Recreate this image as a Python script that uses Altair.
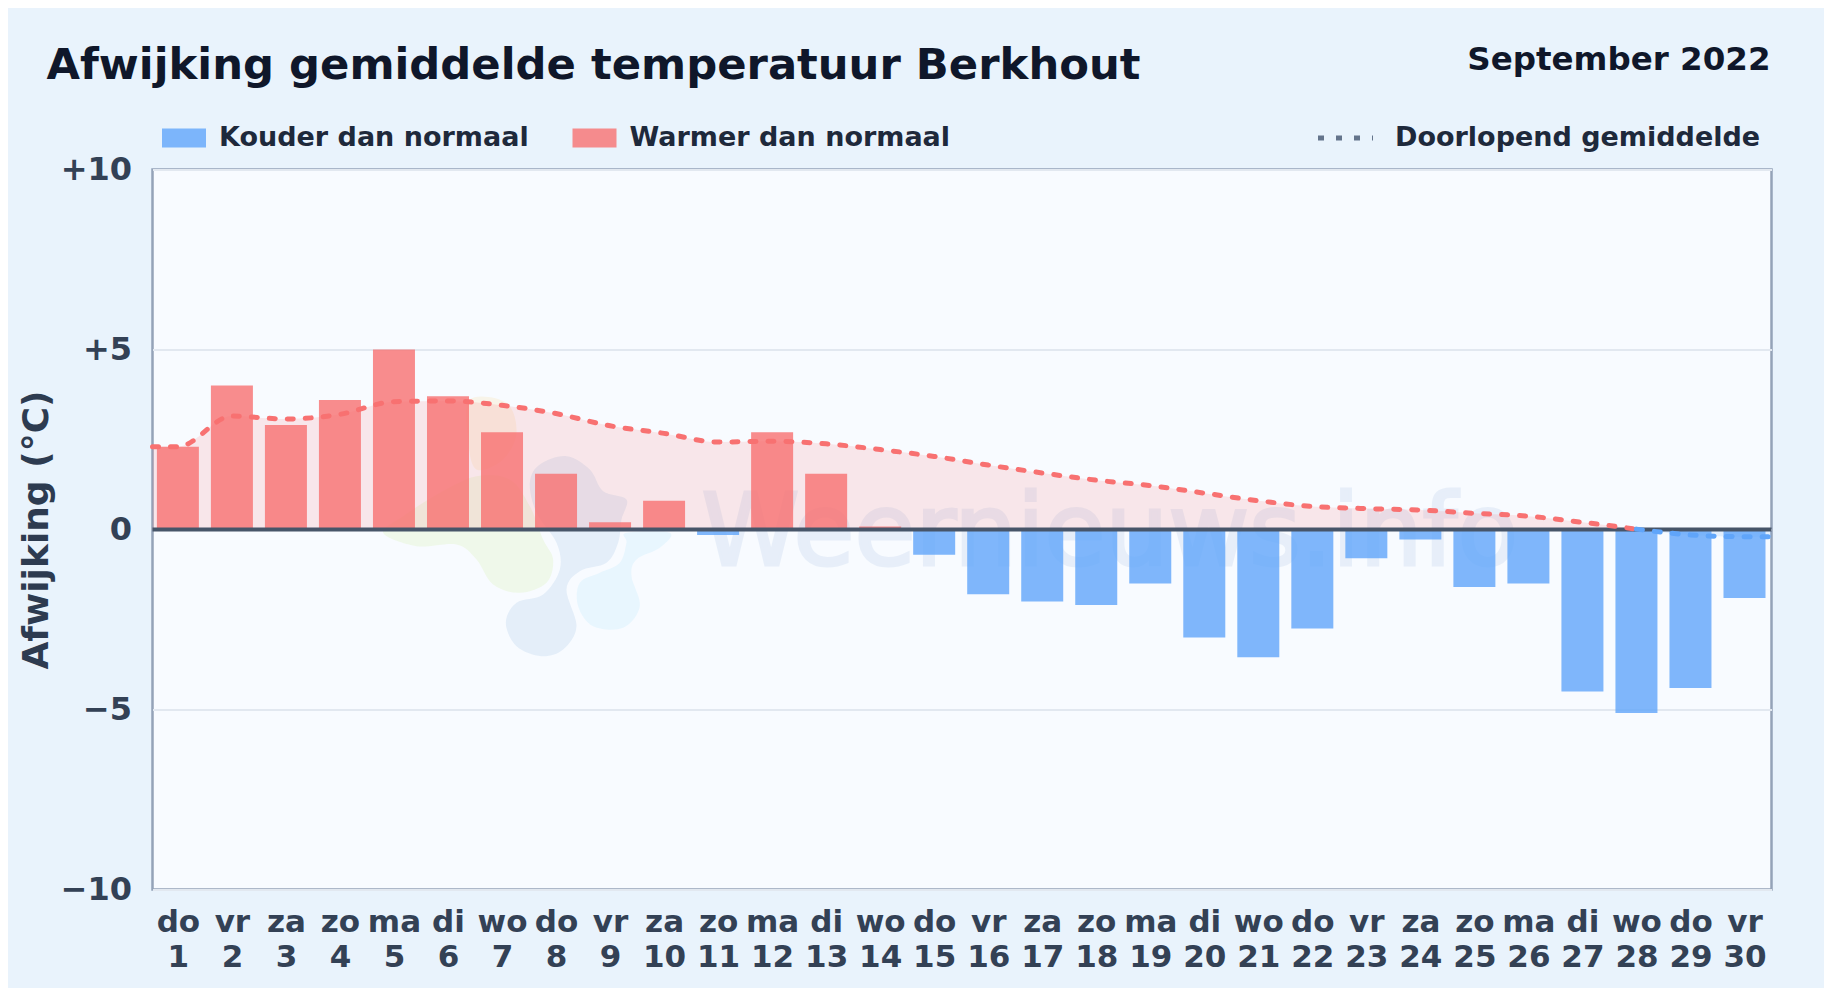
import json
import altair as alt
import pandas as pd

day_names = ["do","vr","za","zo","ma","di","wo","do","vr","za","zo","ma","di","wo","do","vr","za","zo","ma","di","wo","do","vr","za","zo","ma","di","wo","do","vr"]
days = list(range(1, 31))
deviation = [2.3,4.0,2.9,3.6,5.0,3.7,2.7,1.55,0.2,0.8,-0.15,2.7,1.55,0.08,-0.7,-1.8,-2.0,-2.1,-1.5,-3.0,-3.55,-2.75,-0.8,-0.28,-1.6,-1.5,-4.5,-5.1,-4.4,-1.9]
running_days = [0.53] + days + [30.5]
running_mean = [2.3,2.3,3.15,3.07,3.2,3.55,3.57,3.45,3.22,2.88,2.67,2.43,2.45,2.38,2.22,2.03,1.79,1.57,1.37,1.22,1.01,0.8,0.64,0.58,0.54,0.45,0.37,0.2,0.01,-0.15,-0.2,-0.2]
COLD, WARM, MEAN = "Kouder dan normaal", "Warmer dan normaal", "Doorlopend gemiddelde"

FONT = "DejaVu Sans"
bars_df = pd.DataFrame({"dag": days, "afw": deviation, "soort": [COLD if v < 0 else WARM for v in deviation]})
line_df = pd.DataFrame({"dag": running_days, "gem": running_mean, "naam": MEAN})
warm_df = line_df[line_df.dag <= 28]
cold_df = line_df[line_df.dag >= 28]

x_scale = alt.Scale(domain=[0.53, 30.5], nice=False, zero=False, padding=0)
y_scale = alt.Scale(domain=[-10, 10], nice=False)
x_expr = "[" + json.dumps(day_names) + "[datum.value-1], ''+datum.value]"
x_axis = alt.Axis(values=days, labelExpr=x_expr, title=None, grid=False, domain=False, ticks=False,
                  labelFont=FONT, labelFontSize=31, labelFontWeight="bold", labelColor="#334155",
                  labelOverlap=False, labelFlush=False, labelLineHeight=34.5, labelPadding=18, labelBaseline="top")
y_axis = alt.Axis(values=[-10, -5, 0, 5, 10], title="Afwijking (°C)",
                  labelExpr="datum.value>0 ? '+'+datum.value : (datum.value<0 ? '\u2212'+abs(datum.value) : '0')",
                  grid=True, gridColor="#e2e8f0", gridWidth=2, domain=False, ticks=False,
                  labelFont=FONT, labelFontSize=32, labelFontWeight="bold", labelColor="#334155", labelPadding=21,
                  titleFont=FONT, titleFontSize=36, titleFontWeight="bold", titleColor="#2d3b50", titlePadding=5)
X = alt.X("dag:Q", scale=x_scale, axis=x_axis)
Y = alt.Y("gem:Q", scale=y_scale, axis=y_axis)


def smooth(points):
    cx, cy = 600, 330
    p = [((a - cx) / 3, (b - cy) / 3) for a, b in points]
    n = len(p)
    out = f"M{p[0][0]:.1f},{p[0][1]:.1f}"
    for i in range(n):
        p0, p1, p2, p3 = p[i - 1], p[i], p[(i + 1) % n], p[(i + 2) % n]
        c1 = (p1[0] + (p2[0] - p0[0]) / 6, p1[1] + (p2[1] - p0[1]) / 6)
        c2 = (p2[0] - (p3[0] - p1[0]) / 6, p2[1] - (p3[1] - p1[1]) / 6)
        out += f"C{c1[0]:.1f},{c1[1]:.1f},{c2[0]:.1f},{c2[1]:.1f},{p2[0]:.1f},{p2[1]:.1f}"
    return out + "Z"


logo_dark = [(540,135),(620,110),(690,150),(730,215),(800,240),(785,300),(775,370),(740,430),(660,455),(620,510),(650,620),(610,690),(545,710),(470,680),(438,610),(470,550),(550,525),(600,450),(590,370),(530,280),(510,190)]
logo_light = [(800,340),(930,340),(900,385),(830,420),(815,470),(840,560),(790,625),(700,620),(655,560),(660,490),(720,460),(780,430),(800,370)]
logo_green = [(70,340),(170,380),(290,375),(350,420),(400,495),(480,520),(560,490),(580,420),(550,360),(510,260),(450,180),(350,170),(240,220),(130,290)]
logo_yellow = [(330,-60),(440,-50),(470,40),(430,120),(350,150),(325,60)]


def blob(points, color, opacity):
    return alt.Chart(pd.DataFrame({"a": [0]})).mark_point(
        shape=smooth(points), filled=True, fill=color, opacity=opacity, strokeWidth=0, size=4, clip=True
    ).encode(x=alt.datum(8.07, scale=x_scale), y=alt.datum(0, scale=y_scale))


watermark = alt.Chart(pd.DataFrame({"t": ["Weernieuws.info"]})).mark_text(
    font=FONT, fontSize=99, color="#3b75c4", stroke="#3b75c4", strokeWidth=3, opacity=0.085, align="left", baseline="alphabetic"
).encode(text="t:N", x=alt.value(549), y=alt.value(395.5))

area_warm = alt.Chart(warm_df).mark_area(color="#f87171", opacity=0.15, interpolate="monotone").encode(x=X, y=Y, y2=alt.datum(0))
area_cold = alt.Chart(cold_df).mark_area(color="#60a5fa", opacity=0.15, interpolate="monotone").encode(x=X, y=Y, y2=alt.datum(0))

bars = alt.Chart(bars_df).mark_bar(width=42, strokeWidth=0).encode(
    x=X,
    y=alt.Y("afw:Q", scale=y_scale, axis=y_axis),
    y2=alt.datum(0),
    fill=alt.Fill("soort:N", scale=alt.Scale(domain=[COLD, WARM], range=["rgba(96,165,250,0.8)", "rgba(248,113,113,0.8)"]),
                  legend=alt.Legend(title=None, orient="none", legendX=9.5, legendY=-53.5, direction="horizontal", columns=2,
                                    symbolType="M-1,-.432H1V.432H-1Z", symbolSize=1936, symbolStrokeWidth=0,
                                    labelFont=FONT, labelFontSize=27, labelFontWeight="bold", labelColor="#1e293b",
                                    labelOffset=13, labelLimit=600, columnPadding=43.5, padding=0)),
)

zero = alt.Chart(pd.DataFrame({"y": [0]})).mark_rule(color="#475569", strokeWidth=4).encode(y=alt.Y("y:Q", scale=y_scale, axis=y_axis))

dash = alt.StrokeDash("naam:N", scale=alt.Scale(domain=[MEAN], range=[[6, 12]]),
                      legend=alt.Legend(title=None, orient="none", legendX=1163, legendY=-61.5, symbolType="stroke",
                                        symbolSize=3025, symbolStrokeWidth=5, symbolStrokeColor="#64748b", symbolDash=[5, 11.5], symbolDashOffset=0,
                                        labelFont=FONT, labelFontSize=27, labelFontWeight="bold", labelColor="#1e293b",
                                        labelOffset=19.5, labelLimit=600, padding=0))
line_warm = alt.Chart(warm_df).mark_line(color="#f87171", strokeWidth=5, strokeCap="round", interpolate="monotone").encode(x=X, y=Y, strokeDash=dash)
line_cold = alt.Chart(cold_df).mark_line(color="#60a5fa", strokeWidth=5, strokeCap="round", interpolate="monotone").encode(x=X, y=Y, strokeDash=dash)

month = alt.Chart(pd.DataFrame({"t": ["September 2022"]})).mark_text(
    font=FONT, fontSize=32.5, fontWeight="bold", color="#0f172a", align="right", baseline="alphabetic"
).encode(text="t:N", x=alt.value(1618), y=alt.value(-100))

chart = alt.layer(
    blob(logo_green, "#a3e635", 0.1), blob(logo_yellow, "#fbbf24", 0.1),
    blob(logo_dark, "#1e6bb8", 0.09), blob(logo_light, "#38bdf8", 0.08),
    watermark, area_warm, area_cold, bars, zero, line_warm, line_cold, month,
).properties(
    width=1619, height=720,
    padding={"left": 144.5, "top": 161.5, "right": 52.5, "bottom": 98},
    autosize=alt.AutoSizeParams(type="none"),
    background="#e9f3fc",
    title=alt.TitleParams("Afwijking gemiddelde temperatuur Berkhout", anchor="start", frame="group", dx=-106, dy=79,
                          font=FONT, fontSize=43.3, fontWeight="bold", color="#0f172a", baseline="alphabetic", offset=0),
).configure_view(fill="#f8fbff", stroke="#94a3b8", strokeWidth=2.5)

chart.save("out.html", embed_options={"renderer": "svg", "actions": False})
